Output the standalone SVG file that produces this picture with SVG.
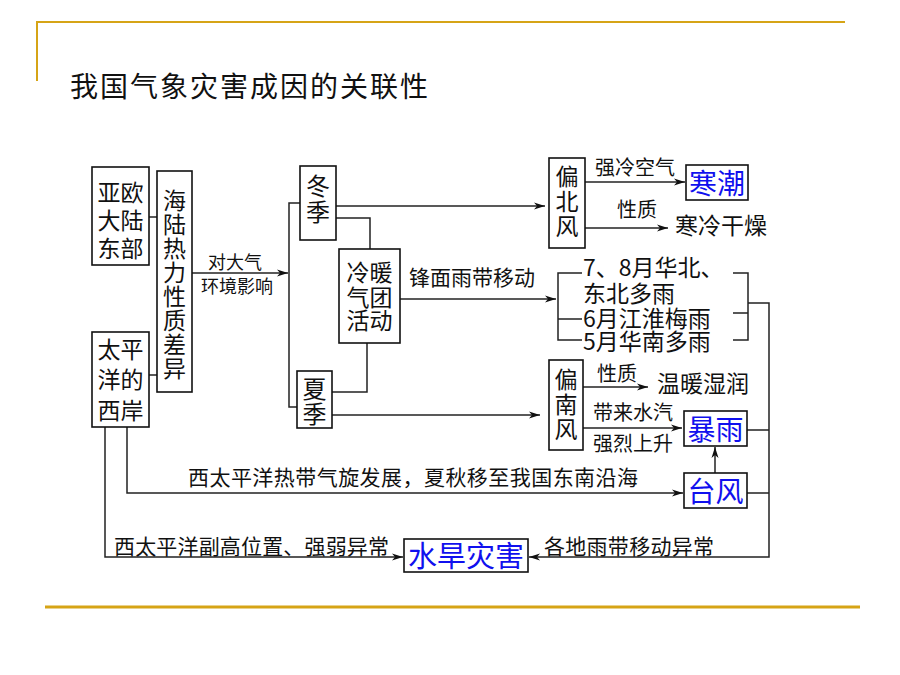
<svg xmlns="http://www.w3.org/2000/svg" width="900" height="675" viewBox="0 0 900 675">
<style>
.t{font-family:"Noto Sans CJK SC","Noto Sans",sans-serif;fill:#111;}
.c{text-anchor:middle;}
.v{writing-mode:vertical-rl;text-anchor:middle;}
.b{fill:#1010ee;}
.box{fill:#fff;stroke:#111;stroke-width:1.6;}
.ln{fill:none;stroke:#222;stroke-width:1.5;}
.gold{stroke:#D6A416;fill:none;}
</style>
<defs>
<marker id="ah" markerUnits="userSpaceOnUse" markerWidth="12" markerHeight="8" refX="11" refY="4" orient="auto">
<path d="M0,0.5 L11,4 L0,7.5 L3,4 z" fill="#111"/>
</marker>
</defs>
<rect width="900" height="675" fill="#fff"/>
<g id="frame">
<path class="gold" stroke-width="2" d="M37,81 V22 H845"/>
<path stroke="#D6A416" stroke-width="3" d="M45,607 H860"/>
</g>
<text id="title" class="t" x="70" y="97" font-size="28" textLength="358">我国气象灾害成因的关联性</text>
<g id="connectors">
<path class="ln" d="M149,217 H157"/>
<path class="ln" d="M149,375 H157"/>
<path class="ln" d="M192,273 H288" marker-end="url(#ah)"/>
<path class="ln" d="M300,203 H289 V407 H297"/>
<path class="ln" stroke-width="2" d="M336,206 H545" marker-end="url(#ah)"/>
<path class="ln" d="M336,218 H370 V249"/>
<path class="ln" d="M332,392 H367 V343"/>
<path class="ln" d="M332,415 H540" marker-end="url(#ah)"/>
<path class="ln" d="M400,299 H556" marker-end="url(#ah)"/>
<path class="ln" d="M582,273 H558 V340 H582 M558,319 H582"/>
<path class="ln" d="M733,273 H748 V340 H733 M733,313 H748 M748,303 H769 V557 H529" marker-end="url(#ah)"/>
<path class="ln" d="M747,430 H769 M747,493 H769"/>
<path class="ln" d="M585,182 H685" marker-end="url(#ah)"/>
<path class="ln" d="M585,228 H668" marker-end="url(#ah)"/>
<path class="ln" d="M583,387 H648" marker-end="url(#ah)"/>
<path class="ln" d="M583,428 H682" marker-end="url(#ah)"/>
<path class="ln" d="M715,473 V447" marker-end="url(#ah)"/>
<path class="ln" d="M127,427 V493 H683" marker-end="url(#ah)"/>
<path class="ln" d="M105,427 V557 H403" marker-end="url(#ah)"/>
</g>
<g id="labels">
<text class="t c" x="235" y="269" font-size="18">对大气</text>
<text class="t c" x="237" y="293" font-size="18">环境影响</text>
<text class="t c" x="635" y="175" font-size="20">强冷空气</text>
<text class="t c" x="637" y="217" font-size="20">性质</text>
<text class="t c" x="472" y="285" font-size="21">锋面雨带移动</text>
<text class="t c" x="617" y="381" font-size="20">性质</text>
<text class="t c" x="633" y="420" font-size="20">带来水汽</text>
<text class="t c" x="633" y="451" font-size="20">强烈上升</text>
<text class="t" x="188" y="485" font-size="21" textLength="450">西太平洋热带气旋发展，夏秋移至我国东南沿海</text>
<text class="t" x="114" y="554" font-size="21" textLength="275">西太平洋副高位置、强弱异常</text>
<text class="t" x="544" y="554" font-size="21" textLength="170">各地雨带移动异常</text>
</g>
<g id="n-yaou">
<rect class="box" x="92" y="167" width="57" height="98"/>
<text class="t c" font-size="23"><tspan x="120.5" y="201">亚欧</tspan><tspan x="120.5" y="229">大陆</tspan><tspan x="120.5" y="257">东部</tspan></text>
</g>
<g id="n-hailu">
<rect class="box" x="157" y="171" width="35" height="221"/>
<text class="t v" x="174.5" y="285" font-size="23" letter-spacing="1">海陆热力性质差异</text>
</g>
<g id="n-taiping">
<rect class="box" x="92" y="332" width="57" height="95"/>
<text class="t c" font-size="23"><tspan x="120.5" y="358">太平</tspan><tspan x="120.5" y="388">洋的</tspan><tspan x="120.5" y="419">西岸</tspan></text>
</g>
<g id="n-dongji">
<rect class="box" x="300" y="166" width="36" height="74"/>
<text class="t v" x="318" y="200" font-size="24" letter-spacing="2">冬季</text>
</g>
<g id="n-xiaji">
<rect class="box" x="297" y="371" width="35" height="57"/>
<text class="t v" x="314.5" y="402" font-size="24" letter-spacing="1">夏季</text>
</g>
<g id="n-lengnuan">
<rect class="box" x="339" y="249" width="61" height="94"/>
<text class="t c" font-size="23"><tspan x="369.5" y="281">冷暖</tspan><tspan x="369.5" y="306">气团</tspan><tspan x="369.5" y="329">活动</tspan></text>
</g>
<g id="n-pianbei">
<rect class="box" x="549" y="158" width="36" height="90"/>
<text class="t v" x="567" y="202" font-size="23" letter-spacing="2">偏北风</text>
</g>
<g id="n-hanchao">
<rect class="box" x="686" y="165" width="62" height="35"/>
<text class="t c b" x="717" y="194" font-size="28">寒潮</text>
</g>
<g id="n-hanleng">
<text class="t c" x="721" y="234" font-size="23">寒冷干燥</text>
</g>
<g id="n-rain">
<text class="t" font-size="23"><tspan x="583" y="276">7、8月华北、</tspan><tspan x="583" y="302">东北多雨</tspan><tspan x="583" y="327">6月江淮梅雨</tspan><tspan x="583" y="350">5月华南多雨</tspan></text>
</g>
<g id="n-piannan">
<rect class="box" x="549" y="360" width="34" height="90"/>
<text class="t v" x="566" y="405" font-size="23" letter-spacing="2">偏南风</text>
</g>
<g id="n-wennuan">
<text class="t c" x="703" y="392" font-size="23">温暖湿润</text>
</g>
<g id="n-baoyu">
<rect class="box" x="684" y="411" width="63" height="35"/>
<text class="t c b" x="715.5" y="440" font-size="28">暴雨</text>
</g>
<g id="n-taifeng">
<rect class="box" x="684" y="473" width="63" height="35"/>
<text class="t c b" x="715.5" y="502" font-size="28">台风</text>
</g>
<g id="n-hanzai">
<rect class="box" x="404" y="539" width="124" height="33"/>
<text class="t c b" x="466" y="567" font-size="29">水旱灾害</text>
</g>
</svg>
